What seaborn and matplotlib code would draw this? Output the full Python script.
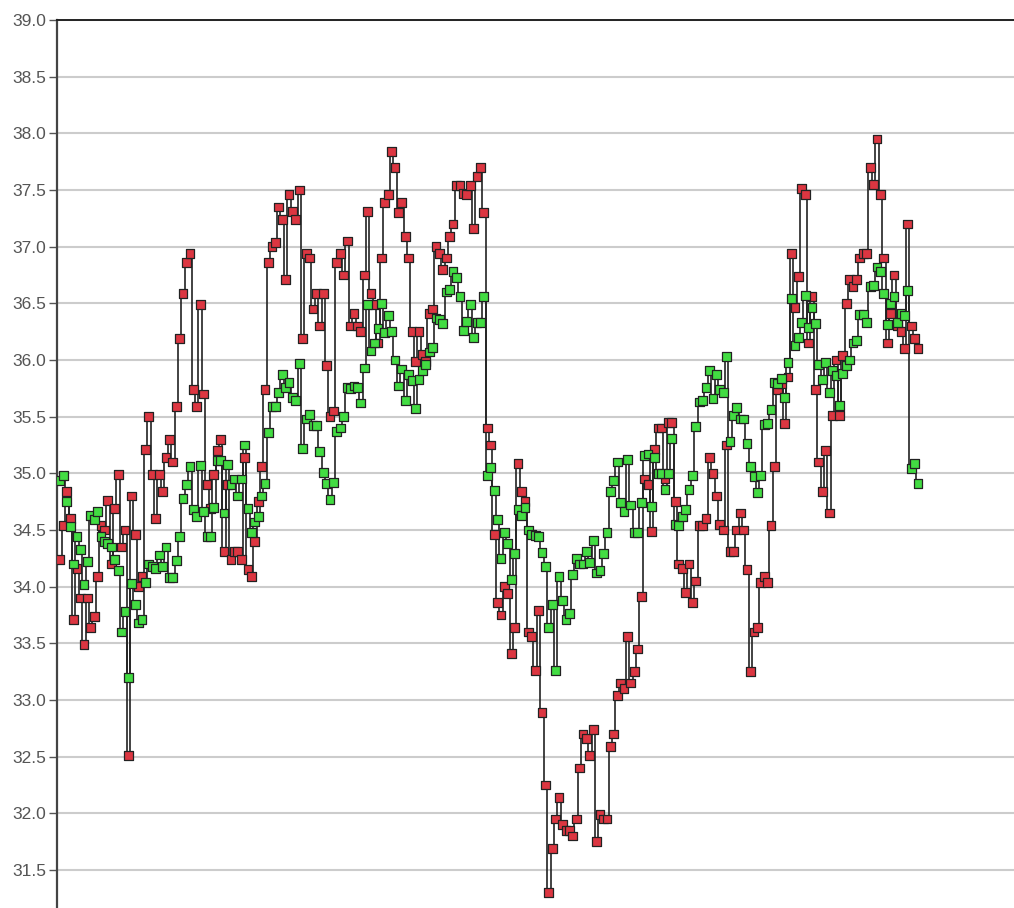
import matplotlib
matplotlib.use('Agg')
import numpy as np
import pandas as pd
import seaborn as sns
import matplotlib.pyplot as plt

# Quotes, one value per tick (red and green series)
red_vals = [
    34.24, 34.54, 34.84, 34.60, 33.71, 34.16, 33.90, 33.49, 33.90, 33.64,
    33.74, 34.09, 34.54, 34.50, 34.76, 34.20, 34.69, 34.99, 34.35, 34.50,
    32.51, 34.80, 34.46, 34.00, 34.09, 35.21, 35.50, 34.99, 34.60, 34.99,
    34.84, 35.14, 35.30, 35.10, 35.59, 36.19, 36.59, 36.86, 36.94, 35.74,
    35.59, 36.49, 35.70, 34.90, 34.69, 34.99, 35.20, 35.30, 34.31, 34.90,
    34.24, 34.31, 34.31, 34.24, 35.14, 34.15, 34.09, 34.40, 34.75, 35.06,
    35.74, 36.86, 37.00, 37.04, 37.35, 37.24, 36.71, 37.46, 37.31, 37.24,
    37.50, 36.19, 36.94, 36.90, 36.45, 36.59, 36.30, 36.59, 35.95, 35.50,
    35.55, 36.86, 36.94, 36.75, 37.05, 36.30, 36.41, 36.30, 36.25, 36.75,
    37.31, 36.59, 36.49, 36.15, 36.90, 37.39, 37.46, 37.84, 37.70, 37.30,
    37.39, 37.09, 36.90, 36.25, 35.99, 36.25, 36.05, 35.99, 36.41, 36.45,
    37.00, 36.94, 36.80, 36.90, 37.09, 37.20, 37.54, 37.54, 37.47, 37.46,
    37.54, 37.16, 37.62, 37.70, 37.30, 35.40, 35.25, 34.46, 33.86, 33.75,
    34.00, 33.94, 33.41, 33.64, 35.09, 34.84, 34.75, 33.60, 33.56, 33.26,
    33.79, 32.89, 32.25, 31.30, 31.69, 31.95, 32.14, 31.90, 31.85, 31.85,
    31.80, 31.95, 32.40, 32.70, 32.66, 32.51, 32.74, 31.75, 31.99, 31.95,
    31.95, 32.59, 32.70, 33.04, 33.15, 33.10, 33.56, 33.15, 33.25, 33.45,
    33.91, 34.95, 34.90, 34.49, 35.21, 35.40, 35.40, 34.95, 35.45, 35.45,
    34.75, 34.20, 34.16, 33.95, 34.20, 33.86, 34.05, 34.54, 34.54, 34.60,
    35.14, 35.00, 34.80, 34.55, 34.50, 35.25, 34.31, 34.31, 34.50, 34.65,
    34.50, 34.15, 33.25, 33.60, 33.64, 34.04, 34.09, 34.04, 34.54, 35.06,
    35.74, 35.79, 35.44, 35.85, 36.94, 36.46, 36.74, 37.51, 37.46, 36.15,
    36.56, 35.74, 35.10, 34.84, 35.20, 34.65, 35.51, 36.00, 35.51, 36.04,
    36.50, 36.71, 36.65, 36.71, 36.90, 36.94, 36.94, 37.70, 37.55, 37.95,
    37.46, 36.90, 36.15, 36.41, 36.75, 36.30, 36.25, 36.10, 37.20, 36.30,
    36.19, 36.10,
]

green_vals = [
    34.94, 34.98, 34.75, 34.53, 34.20, 34.44, 34.33, 34.02, 34.22, 34.63,
    34.59, 34.66, 34.44, 34.40, 34.38, 34.35, 34.24, 34.14, 33.60, 33.78,
    33.20, 34.03, 33.84, 33.68, 33.71, 34.04, 34.20, 34.18, 34.16, 34.28,
    34.18, 34.35, 34.08, 34.08, 34.23, 34.44, 34.78, 34.90, 35.06, 34.68,
    34.62, 35.07, 34.66, 34.44, 34.44, 34.70, 35.11, 35.11, 34.65, 35.08,
    34.90, 34.95, 34.80, 34.95, 35.25, 34.69, 34.48, 34.57, 34.62, 34.80,
    34.91, 35.36, 35.59, 35.59, 35.71, 35.87, 35.76, 35.80, 35.67, 35.64,
    35.97, 35.22, 35.48, 35.52, 35.42, 35.42, 35.19, 35.01, 34.91, 34.77,
    34.92, 35.37, 35.40, 35.50, 35.76, 35.75, 35.77, 35.76, 35.62, 35.93,
    36.49, 36.08, 36.15, 36.28, 36.50, 36.24, 36.39, 36.25, 36.00, 35.77,
    35.92, 35.64, 35.87, 35.82, 35.57, 35.83, 35.91, 35.96, 36.07, 36.11,
    36.37, 36.36, 36.32, 36.60, 36.62, 36.78, 36.73, 36.56, 36.26, 36.34,
    36.49, 36.20, 36.33, 36.33, 36.56, 34.98, 35.05, 34.85, 34.59, 34.25,
    34.48, 34.38, 34.06, 34.29, 34.68, 34.63, 34.70, 34.50, 34.46, 34.45,
    34.44, 34.30, 34.18, 33.64, 33.84, 33.26, 34.09, 33.88, 33.71, 33.76,
    34.11, 34.25, 34.20, 34.20, 34.31, 34.21, 34.41, 34.12, 34.14, 34.29,
    34.48, 34.84, 34.94, 35.10, 34.74, 34.66, 35.12, 34.72, 34.48, 34.48,
    34.74, 35.16, 35.17, 34.71, 35.14, 35.00, 35.00, 34.86, 35.00, 35.31,
    34.55, 34.54, 34.62, 34.68, 34.86, 34.98, 35.41, 35.63, 35.64, 35.76,
    35.91, 35.66, 35.87, 35.74, 35.71, 36.03, 35.28, 35.51, 35.58, 35.48,
    35.48, 35.26, 35.06, 34.97, 34.83, 34.98, 35.43, 35.44, 35.56, 35.80,
    35.79, 35.84, 35.67, 35.98, 36.54, 36.13, 36.20, 36.33, 36.57, 36.29,
    36.46, 36.32, 35.96, 35.83, 35.98, 35.71, 35.91, 35.86, 35.60, 35.88,
    35.95, 36.00, 36.15, 36.17, 36.40, 36.40, 36.33, 36.65, 36.66, 36.82,
    36.78, 36.59, 36.31, 36.50, 36.56, 36.33, 36.41, 36.39, 36.61, 35.04,
    35.09, 34.91,
]

y_ticks = [31.5, 32.0, 32.5, 33.0, 33.5, 34.0, 34.5, 35.0, 35.5, 36.0,
           36.5, 37.0, 37.5, 38.0, 38.5, 39.0]

red_df = pd.DataFrame({'tick': np.arange(len(red_vals)), 'price': red_vals, 'side': 'red'})
green_df = pd.DataFrame({'tick': np.arange(len(green_vals)), 'price': green_vals, 'side': 'green'})
df = pd.concat([red_df, green_df], ignore_index=True)

sns.set_style('white')
plt.rcParams['font.family'] = ['Liberation Sans', 'DejaVu Sans']

fig = plt.figure(figsize=(10.14, 9.08), dpi=100)
ax = fig.add_axes([57 / 1014, 0, 1 - 57 / 1014, 1 - 20 / 908])

# stepped connecting lines for each series
for side, sub in df.groupby('side'):
    sns.lineplot(data=sub, x='tick', y='price', color='#222222', linewidth=1.2,
                 ax=ax, sort=False, estimator=None, drawstyle='steps-mid', zorder=2)

# square markers on top
sns.scatterplot(data=df, x='tick', y='price', hue='side',
                palette={'red': '#dc3641', 'green': '#42dc42'},
                marker='s', s=40, edgecolor='#222222', linewidth=0.9,
                legend=False, ax=ax, zorder=3)

n = len(red_vals) - 1
px = (918 - 60) / n
ax.set_xlim(-3 / px, (1014 - 60) / px)
ax.set_ylim(39.0 - (908 - 20) / 113.33, 39.0)

ax.set_xticks([])
ax.set_yticks(y_ticks)
ax.set_yticklabels([f'{v:.1f}' for v in y_ticks])
ax.tick_params(axis='y', direction='out', length=6, width=1, color='#555555',
               labelcolor='#555555', labelsize=12.5, pad=2, left=True)
ax.set_xlabel('')
ax.set_ylabel('')

ax.yaxis.grid(True, color='#cccccc', linewidth=1.5)
ax.set_axisbelow(True)

ax.spines['right'].set_visible(False)
ax.spines['bottom'].set_visible(False)
ax.spines['top'].set_color('#222222')
ax.spines['top'].set_linewidth(1.4)
ax.spines['left'].set_color('#444444')
ax.spines['left'].set_linewidth(1.6)

fig.savefig('out.png', dpi=100)
